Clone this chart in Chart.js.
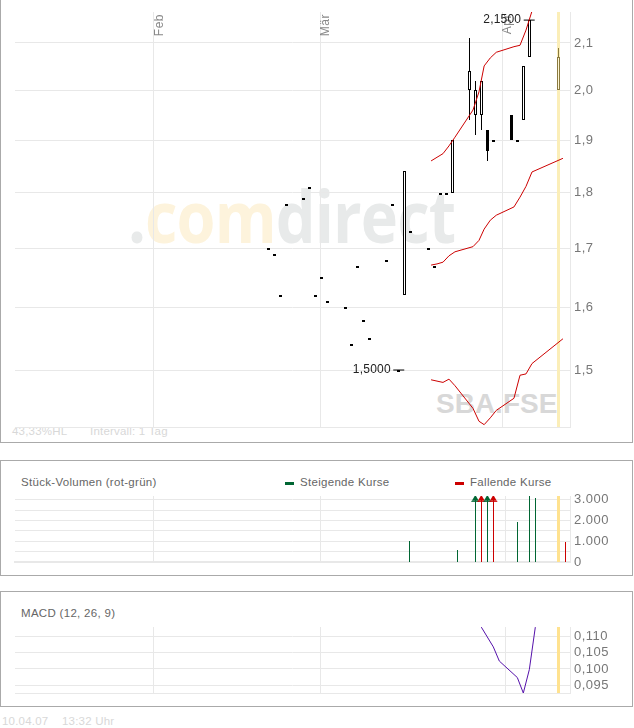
<!DOCTYPE html>
<html lang="de">
<head>
<meta charset="UTF-8">
<title>SBA.FSE</title>
<script src="https://cdn.jsdelivr.net/npm/chart.js@4"></script>
<style>
    html, body { margin: 0; padding: 0; background: #fff; }
    body { position: relative; width: 634px; height: 728px; overflow: hidden; font-family: "Liberation Sans", Arial, sans-serif; }
    .panel { position: absolute; left: 0; width: 633px; box-sizing: border-box; border: 1px solid #aaa; background: #fff; }
    canvas { position: absolute; left: 0; }
    .txt { position: absolute; white-space: nowrap; font-size: 11.5px; letter-spacing: 0.3px; color: #666; line-height: 14px; }
    .pale { color: #d8d8d8; letter-spacing: 0.2px; }
    .key { position: absolute; width: 9px; height: 3px; }
    .wm { position: absolute; white-space: nowrap; font-family: "Open Sans", sans-serif; font-weight: 700; font-size: 72px; line-height: 80px; left: 128px; top: 175px; color: #e8eaea; letter-spacing: -1px; transform: scaleX(0.875); transform-origin: left top; }
    .wm span { color: #fdf3dc; }
    .sym { position: absolute; white-space: nowrap; left: 436px; top: 387px; font-weight: 700; font-size: 28px; line-height: 34px; color: #d8d8d8; }
</style>
</head>
<body>
<div class="panel" style="top:-2px;height:445px"></div>
<div class="panel" style="top:460px;height:116px"></div>
<div class="panel" style="top:591px;height:116px"></div>

<div class="wm">.<span>com</span>direct</div>
<div class="sym">SBA.FSE</div>
<div class="txt pale" style="left:12px;top:424px">43,33%HL</div>
<div class="txt pale" style="left:90px;top:424px">Intervall: 1 Tag</div>

<div class="txt" style="left:21px;top:475px">Stück-Volumen (rot-grün)</div>
<div class="key" style="left:285px;top:482px;background:#006633"></div>
<div class="txt" style="left:300px;top:475px">Steigende Kurse</div>
<div class="key" style="left:455px;top:482px;background:#cc0000"></div>
<div class="txt" style="left:470px;top:475px">Fallende Kurse</div>

<div class="txt" style="left:21px;top:606px">MACD (12, 26, 9)</div>
<div class="txt pale" style="left:2px;top:714px">10.04.07</div>
<div class="txt pale" style="left:62px;top:714px">13:32 Uhr</div>

<canvas id="priceChart" width="634" height="443" style="top:0"></canvas>
<canvas id="volumeChart" width="634" height="115" style="top:460px"></canvas>
<canvas id="macdChart" width="634" height="115" style="top:591px"></canvas>

<script>
// days counted from 20.02.07
const candleDays = [0,1,2,3,6,7,8,9,10,13,14,15,16,17,20,21,22,23,24,27,28,29,30,31,34,35,36,37,38,41,42,43,44,49];
const opens  = [1.70,1.69,1.62,1.78,1.79,1.81,1.62,1.65,1.61,1.60,1.54,1.67,1.58,1.55,1.68,1.78,1.50,1.62,1.73,1.70,1.67,1.80,1.80,1.80,2.00,1.95,1.95,1.92,1.90,1.95,1.90,1.94,2.07,2.00];
const closes = [1.70,1.69,1.62,1.78,1.79,1.81,1.62,1.65,1.61,1.60,1.54,1.67,1.58,1.55,1.68,1.78,1.50,1.84,1.73,1.70,1.67,1.80,1.80,1.90,2.04,2.00,2.02,1.88,1.90,1.90,1.90,2.05,2.15,2.07];
const highs  = [1.70,1.69,1.62,1.78,1.79,1.81,1.62,1.65,1.61,1.60,1.54,1.67,1.58,1.55,1.68,1.78,1.50,1.84,1.73,1.70,1.67,1.80,1.80,1.90,2.11,2.02,2.02,1.92,1.90,1.95,1.90,2.05,2.15,2.09];
const lows   = [1.70,1.69,1.62,1.78,1.79,1.81,1.62,1.65,1.61,1.60,1.54,1.67,1.58,1.55,1.68,1.78,1.50,1.62,1.73,1.70,1.67,1.80,1.80,1.80,1.94,1.91,1.92,1.86,1.90,1.90,1.90,1.94,2.07,2.00];

const lineDays  = [27.45,28.45,29.46,30.47,31.48,34.52,35.53,36.4,37.44,38.45,41.43,42.45,43.46,44.47,49.69];
const upperLine = [1.860,1.867,1.874,1.889,1.906,1.960,1.997,2.051,2.068,2.080,2.092,2.095,2.128,2.17,null];
const midLine   = [1.671,1.673,1.676,1.687,1.694,1.703,1.714,1.734,1.750,1.759,1.774,1.792,1.812,1.839,1.865];
const lowerLine = [1.485,1.483,1.481,1.486,1.476,1.442,1.423,1.418,1.428,1.439,1.457,1.492,1.494,1.510,1.549];

const extremeDays   = [44, 22];
const extremeValues = [2.15, 1.50];
const extremeLabels = ['2,1500', '1,5000'];

const priceTicks = [1.5,1.6,1.7,1.8,1.9,2.0,2.1];
const priceMonthTicks = [-19.36, 8.72, 39.46];
const panelMonthTicks = [-19.63, 8.2, 39];
const monthLabels = ['Feb', 'Mär', 'Apr'];

const volumeDays   = [23,31,34,35,36,37,41,43,44,49];
const volumeValues = [1000,600,3178,3178,3178,3178,1920,3178,3100,980];
const volumeFalling = [false,false,false,true,false,true,false,false,false,true];
const volumeLabelTicks = [0,1000,2000,3000];
const volumeGridTicks = [500,1500,2500];
const arrowDays = [34,35,36,37];

const macdDays   = [35,36,37,38,41,42,43,44];
const macdValues = [0.1127,0.1097,0.1067,0.1024,0.0974,0.0927,0.0998,0.1127];
const macdTicks  = [0.095,0.100,0.105,0.110];

const GRID = '#e8e8e8';
const GREEN = '#006633';
const RED = '#cc0000';
const TODAY = 49;

// keeps thin bars on whole pixels and sets the tracking of the canvas text
const crispBars = {
    id: 'crispBars',
    afterUpdate(chart) {
        chart.data.datasets.forEach((ds, i) => {
            if (ds.type === 'line') return;
            chart.getDatasetMeta(i).data.forEach(el => {
                el.x = Math.floor(el.x) + 0.5;
                if (ds.minBarLength && Math.abs(el.base - el.y) <= ds.minBarLength) {
                    // flat day: dash hangs right under its value
                    el.y = Math.round(Math.max(el.y, el.base));
                    el.base = el.y + ds.minBarLength;
                } else {
                    el.y = Math.round(el.y);
                    el.base = Math.round(el.base);
                }
                el.height = el.base - el.y;
            });
        });
    },
    beforeDraw(chart) {
        chart.ctx.letterSpacing = '0.5px';
    }
};

const priceText = {
    id: 'priceText',
    beforeDatasetsDraw(chart) {
        const { ctx, scales } = chart;
        ctx.save();
        ctx.font = '12px "Liberation Sans"';
        ctx.fillStyle = '#888';
        ctx.textAlign = 'right';
        ctx.textBaseline = 'bottom';
        priceMonthTicks.forEach((day, i) => {
            ctx.save();
            ctx.translate(Math.round(scales.x.getPixelForValue(day)) + 12, 14);
            ctx.rotate(-Math.PI / 2);
            ctx.fillText(monthLabels[i], 0, 0);
            ctx.restore();
        });
        ctx.restore();
    },
    afterDatasetsDraw(chart) {
        const { ctx, scales } = chart;
        ctx.save();
        ctx.letterSpacing = '0.2px';
        ctx.font = '12px "Liberation Sans"';
        ctx.fillStyle = '#222';
        ctx.textAlign = 'right';
        ctx.textBaseline = 'middle';
        extremeDays.forEach((day, i) => {
            ctx.fillText(extremeLabels[i], scales.x.getPixelForValue(day) - 8, scales.y.getPixelForValue(extremeValues[i]));
        });
        ctx.restore();
    }
};

function xAxis(min, max, monthTicks, borderWidth) {
    return {
        type: 'linear', min: min, max: max, offset: false,
        grid: { color: GRID, drawTicks: false, offset: false },
        border: { color: GRID, width: borderWidth },
        ticks: { display: false },
        afterBuildTicks: scale => { scale.ticks = monthTicks.map(v => ({ value: v })); },
        afterFit: scale => { scale.height = 0; }
    };
}

function yTicks(callback) {
    return { color: '#777', padding: 4, autoSkip: false, maxRotation: 0, font: { family: 'Liberation Sans', size: 13 }, callback: callback };
}

function baseOptions(scales, padding) {
    return {
        responsive: false, animation: false, events: [],
        layout: { padding: padding },
        plugins: { legend: { display: false }, tooltip: { enabled: false } },
        elements: { point: { radius: 0 }, bar: { inflateAmount: 0 } },
        scales: scales
    };
}

function pairs(days, values) {
    return days.map((d, i) => ({ x: d, y: values[i] }));
}

const PRICE_MIN = 1.4146, PRICE_MAX = 2.168;

function bandLine(values) {
    return { type: 'line', data: pairs(lineDays, values), borderColor: RED, borderWidth: 1, tension: 0, order: 1 };
}

new Chart(document.getElementById('priceChart'), {
    type: 'bar',
    data: {
        datasets: [
            bandLine(upperLine),
            bandLine(midLine),
            bandLine(lowerLine),
            { type: 'line', data: pairs(extremeDays, extremeValues), showLine: false, pointStyle: 'line', pointRadius: 5.5, pointBorderWidth: 1, pointBorderColor: '#000', order: 2 },
            {   // candle bodies, flat days come out as small dashes
                data: candleDays.map((d, i) => ({ x: d, y: [Math.min(opens[i], closes[i]), Math.max(opens[i], closes[i])] })),
                barThickness: 3, minBarLength: 2, grouped: false, borderSkipped: false, order: 3,
                borderWidth: ctx => closes[ctx.dataIndex] > opens[ctx.dataIndex] ? 1 : 0,
                borderColor: ctx => candleDays[ctx.dataIndex] === TODAY ? '#8a7a40' : '#000',
                backgroundColor: ctx => candleDays[ctx.dataIndex] === TODAY ? '#fff6d2' : (closes[ctx.dataIndex] > opens[ctx.dataIndex] ? '#fff' : '#000')
            },
            {   // wicks
                data: candleDays.map((d, i) => ({ x: d, y: [lows[i], highs[i]] })),
                barThickness: 1, grouped: false, borderWidth: 0, order: 4,
                backgroundColor: ctx => candleDays[ctx.dataIndex] === TODAY ? '#8a7a40' : '#000'
            },
            {   // today
                data: [{ x: TODAY, y: [PRICE_MIN, PRICE_MAX] }],
                barThickness: 3, grouped: false, borderWidth: 0, backgroundColor: '#fbeeb8', order: 5
            }
        ]
    },
    options: baseOptions({
        x: xAxis(-42.72, 50.88, priceMonthTicks, 1),
        y: {
            type: 'logarithmic', position: 'right', min: PRICE_MIN, max: PRICE_MAX, bounds: 'data',
            grid: { color: GRID, drawTicks: false },
            border: { color: GRID },
            ticks: yTicks(v => v.toFixed(1).replace('.', ',')),
            afterBuildTicks: scale => { scale.ticks = priceTicks.map(v => ({ value: v })); },
            afterFit: scale => { scale.width = 64; }
        }
    }, { left: 15, top: 12, bottom: 16 }),
    plugins: [crispBars, priceText]
});

const VOLUME_MAX = 3178;
new Chart(document.getElementById('volumeChart'), {
    type: 'bar',
    data: {
        datasets: [
            { type: 'line', data: arrowDays.map(d => ({ x: d, y: 3040 })), showLine: false, pointStyle: 'triangle', pointRadius: 4,
              pointBackgroundColor: ctx => volumeFalling[volumeDays.indexOf(arrowDays[ctx.dataIndex])] ? RED : GREEN,
              pointBorderWidth: 0, order: 1 },
            { type: 'line', data: arrowDays.map(d => ({ x: d, y: 2920 })), showLine: false, pointStyle: 'line', pointRadius: 4, pointBorderWidth: 1,
              pointBorderColor: ctx => volumeFalling[volumeDays.indexOf(arrowDays[ctx.dataIndex])] ? RED : GREEN, order: 1 },
            { data: pairs(volumeDays, volumeValues), barThickness: 1, grouped: false, borderWidth: 0, order: 2,
              backgroundColor: ctx => volumeFalling[ctx.dataIndex] ? RED : GREEN },
            { data: [{ x: 47.87, y: [0, VOLUME_MAX] }], barThickness: 3, grouped: false, borderWidth: 0, backgroundColor: '#ffe28f', order: 3 }
        ]
    },
    options: baseOptions({
        x: xAxis(-42.72, 49.78, panelMonthTicks, 2),
        y: {
            type: 'linear', position: 'right', min: 0, max: VOLUME_MAX,
            grid: { color: GRID, drawTicks: false },
            border: { color: GRID },
            ticks: yTicks(v => v === 0 ? '0' : (v / 1000) + '.000'),
            afterBuildTicks: scale => { scale.ticks = volumeLabelTicks.map(v => ({ value: v })); },
            afterFit: scale => { scale.width = 64; }
        },
        yFine: {
            type: 'linear', position: 'right', min: 0, max: VOLUME_MAX,
            grid: { color: GRID, drawTicks: false },
            border: { display: false },
            ticks: { display: false },
            afterBuildTicks: scale => { scale.ticks = volumeGridTicks.map(v => ({ value: v })); },
            afterFit: scale => { scale.width = 0; }
        }
    }, { left: 15, top: 36, bottom: 13 }),
    plugins: [crispBars]
});

const MACD_MIN = 0.0927, MACD_MAX = 0.11274;
new Chart(document.getElementById('macdChart'), {
    type: 'bar',
    data: {
        datasets: [
            { type: 'line', data: pairs(macdDays, macdValues), borderColor: '#5511aa', borderWidth: 1, tension: 0, order: 1 },
            { data: [{ x: 47.87, y: [MACD_MIN, MACD_MAX] }], barThickness: 3, grouped: false, borderWidth: 0, backgroundColor: '#ffe28f', order: 2 }
        ]
    },
    options: baseOptions({
        x: xAxis(-42.72, 49.78, panelMonthTicks, 1),
        y: {
            type: 'linear', position: 'right', min: MACD_MIN, max: MACD_MAX,
            grid: { color: GRID, drawTicks: false },
            border: { color: GRID },
            ticks: yTicks(v => v.toFixed(3).replace('.', ',')),
            afterBuildTicks: scale => { scale.ticks = macdTicks.map(v => ({ value: v })); },
            afterFit: scale => { scale.width = 64; }
        }
    }, { left: 15, top: 36, bottom: 13 }),
    plugins: [crispBars]
});
</script>
</body>
</html>
